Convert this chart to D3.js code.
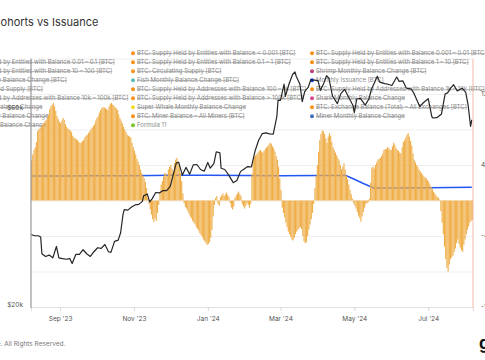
<!DOCTYPE html>
<html><head><meta charset="utf-8">
<script src="https://cdn.jsdelivr.net/npm/d3@7"></script>
<style>
html,body{margin:0;padding:0;background:#fff;overflow:hidden;}
svg{display:block;font-family:Inter,"Noto Sans",sans-serif;}
</style></head><body>
<svg id="c" width="485" height="360"></svg>
<script>
// ---------- DATA ----------
const startDate = "2023-08-08";
// Daily miner-cohort monthly balance change (thousand BTC), from 2023-08-08
const balanceChange = [
45,52,57,60,66,78,80,81,83,85,87,89,91,93,97,103,106,108,110,106,
101,95,92,89,87,90,93,91,86,83,81,80,79,77,73,71,70,69,68,66,
65,65,67,68,71,73,74,76,78,80,82,84,86,90,93,95,99,102,104,105,
105,104,103,102,106,109,110,108,107,105,104,102,97,93,90,87,83,80,77,74,
73,72,71,65,60,56,52,47,44,40,35,31,28,25,21,14,3,
-4,-10,-16,-21,-24,-20,-23,-14,-5,
10,18,22,27,31,30,28,35,38,40,36,33,42,46,48,44,39,31,22,8,
-3,-7,-9,-12,-15,-18,-20,-23,-25,-27,-30,-32,-34,-37,-39,-41,-44,-46,-48,-50,-49,-47,-42,-33,-18,-5,
3,5,-4,-6,4,6,8,5,7,9,6,4,-3,-8,-10,-7,3,6,8,10,7,5,-4,-7,-9,-6,-3,-5,-8,-4,
30,45,49,51,52,54,56,57,55,54,56,58,60,61,63,65,64,61,59,55,50,46,38,25,12,
-8,-14,-19,-25,-30,-35,-38,-41,-44,-45,-42,-38,-35,-33,-31,-30,-32,-40,-46,-48,-47,-40,-33,-27,-21,-14,-4,
14,28,40,55,68,75,79,78,75,70,65,72,76,73,66,60,57,54,51,48,45,40,35,38,42,35,28,24,18,12,7,2,
-3,-6,-9,-13,-17,-20,-24,-18,-13,-8,-4,-3,-2,2,
20,37,38,36,40,43,46,47,48,50,53,57,58,58,60,59,57,57,61,65,63,59,57,56,54,53,60,66,68,71,74,76,72,67,62,53,46,43,40,38,35,33,31,29,27,26,25,23,21,18,15,13,10,8,6,4,3,1,
-12,-25,-38,-52,-66,-76,-80,-72,-66,-64,-62,-58,-54,-48,-44,-49,-53,-56,-58,-50,-44,-38,-33,-29,-25,-23,-22
];
const priceDates = ["2023-08-08","2023-08-11","2023-08-14","2023-08-16","2023-08-17","2023-08-20","2023-08-23","2023-08-26","2023-08-29","2023-08-31",
"2023-09-03","2023-09-06","2023-09-09","2023-09-11","2023-09-14","2023-09-17","2023-09-20","2023-09-23","2023-09-26","2023-09-29",
"2023-10-02","2023-10-05","2023-10-08","2023-10-11","2023-10-13","2023-10-16","2023-10-19","2023-10-21","2023-10-23","2023-10-24","2023-10-27","2023-10-30",
"2023-11-02","2023-11-05","2023-11-08","2023-11-09","2023-11-12","2023-11-14","2023-11-16","2023-11-19","2023-11-22","2023-11-25","2023-11-28",
"2023-12-01","2023-12-04","2023-12-06","2023-12-08","2023-12-11","2023-12-14","2023-12-17","2023-12-20","2023-12-23","2023-12-26","2023-12-29",
"2024-01-01","2024-01-03","2024-01-06","2024-01-08","2024-01-11","2024-01-12","2024-01-15","2024-01-18","2024-01-22","2024-01-25","2024-01-28","2024-01-31",
"2024-02-03","2024-02-06","2024-02-09","2024-02-12","2024-02-15","2024-02-18","2024-02-21","2024-02-24","2024-02-27","2024-02-28",
"2024-03-01","2024-03-04","2024-03-05","2024-03-08","2024-03-11","2024-03-13","2024-03-14","2024-03-17","2024-03-19","2024-03-21","2024-03-24","2024-03-26","2024-03-29",
"2024-04-01","2024-04-03","2024-04-06","2024-04-08","2024-04-10","2024-04-13","2024-04-17","2024-04-20","2024-04-23","2024-04-26","2024-04-30",
"2024-05-01","2024-05-03","2024-05-06","2024-05-10","2024-05-13","2024-05-15","2024-05-20","2024-05-22","2024-05-26","2024-05-28",
"2024-06-01","2024-06-05","2024-06-07","2024-06-10","2024-06-13","2024-06-17","2024-06-19","2024-06-24","2024-06-27",
"2024-07-01","2024-07-04","2024-07-05","2024-07-08","2024-07-12","2024-07-15","2024-07-17","2024-07-20","2024-07-22","2024-07-25","2024-07-29",
"2024-08-01","2024-08-03","2024-08-05","2024-08-06"];
const priceValues = [29600,29400,29400,29200,26600,26200,26400,26000,27700,26000,
25900,25800,25900,25200,26500,26500,27200,26600,26200,26900,
27500,27400,28000,26900,26800,28500,28700,29900,33100,34000,33900,34500,
34900,35000,35600,36700,37100,35500,36100,37400,37300,37800,37800,
38700,41900,44100,44200,41200,43000,41400,43600,43700,42500,42100,
44200,42800,43900,46900,46600,42800,42500,41300,39500,40000,42000,42600,
43200,43100,47100,50000,51900,52100,51800,51700,57000,62500,
62400,68300,63800,68300,72100,73100,71400,68400,62000,65500,67200,70000,69900,
69700,66000,68900,71600,70600,63900,61300,64900,66400,63800,60600,
58300,62900,63100,60800,62900,66200,71400,69100,68500,68400,
67800,71100,69400,69600,66800,66500,65100,60300,61600,
63000,57000,56600,56700,57900,64700,65100,67100,68100,65800,66800,
65300,60700,54000,56000];
const issuanceDates = ["2023-08-08","2023-09-01","2023-10-01","2023-11-01","2023-12-01","2024-01-01","2024-02-01","2024-03-01","2024-04-01","2024-04-24","2024-05-01","2024-05-08","2024-05-17","2024-06-01","2024-07-01","2024-08-06"];
const issuanceValues = [27.6,27.5,27.8,28.0,28.4,28.5,28.2,28.0,28.3,28.1,24.0,19.5,14.2,14.1,14.3,15.0];
const xTickDates = ["2023-09-01","2023-11-01","2024-01-01","2024-03-01","2024-05-01","2024-07-01"];
const xTickLabels = ["Sep '23","Nov '23","Jan '24","Mar '24","May '24","Jul '24"];
const priceTicks = [20000, 60000];
const priceTickLabels = ["$20k", "$60k"];
const gridTicks = [-120,-80,-40,0,40,80,120,160];
const rightTicks = [120, 40, -40, -120];
const rightTickLabels = ["120K", "40K", "-40K", "-120K"];
const legendLeftNames = ["BTC: Supply Held by Entities with Balance 0.01 – 0.1 [BTC]","BTC: Supply Held by Entities with Balance 10 – 100 [BTC]","Plankton Monthly Balance Change [BTC]","BTC: Highly Liquid Supply [BTC]","BTC: Supply Held by Addresses with Balance 10k – 100k [BTC]","Whale Monthly Balance Change","Octopus Monthly Balance Change","Dolphin Monthly Balance Change"];
const legendANames = ["BTC: Supply Held by Entities with Balance < 0.001 [BTC]","BTC: Supply Held by Entities with Balance 0.1 – 1 [BTC]","BTC: Circulating Supply [BTC]","Fish Monthly Balance Change [BTC]","BTC: Supply Held by Addresses with Balance 100 – 1k [BTC]","BTC: Supply Held by Addresses with Balance > 100k [BTC]","Super Whale Monthly Balance Change","BTC: Miner Balance – All Miners [BTC]","Formula 11"];
const legendAColors = ["#f7931a","#f7931a","#f7931a","#5bbfb5","#f7931a","#f7931a","#f2de2a","#f7931a","#7cc62d"];
const legendAActive = [false,false,false,false,false,false,false,false,true];
const legendBNames = ["BTC: Supply Held by Entities with Balance 0.001 – 0.01 [BTC]","BTC: Supply Held by Entities with Balance 1 – 10 [BTC]","Shrimp Monthly Balance Change [BTC]","Monthly Issuance [BTC]","BTC: Supply Held by Addresses with Balance 1k – 10k [BTC]","Shark Monthly Balance Change","BTC: Exchange Balance (Total) – All Exchanges [BTC]","Miner Monthly Balance Change"];
const legendBColors = ["#f7931a","#f7931a","#b8437a","#0a3cff","#f7931a","#e0468f","#f7931a","#3f6fc4"];
const legendBActive = [false,false,false,true,false,false,false,false];

// ---------- CHART ----------
const svg = d3.select("#c");
const P = {left:31, right:473, top:58.5, bottom:307};
const parse = d3.utcParse("%Y-%m-%d");
const t0 = parse(startDate);
const x = d3.scaleUtc().domain([t0, parse("2024-08-07")]).range([P.left, P.right]);
const yBar = d3.scaleLinear().domain([-120,160]).range([P.bottom, P.top]);
const yPrice = d3.scaleLog().domain([19780,78800]).range([P.bottom, P.top]);

// title
svg.append("text").attr("x",-7.5).attr("y",26).attr("font-size",11).attr("fill","#333")
  .text("Cohorts vs Issuance");

// gridlines
svg.append("g").selectAll("line").data(gridTicks).join("line")
  .attr("x1",P.left).attr("x2",P.right)
  .attr("y1",d=>yBar(d)+0.5).attr("y2",d=>yBar(d)+0.5)
  .attr("stroke","#efefef").attr("stroke-width",1);

// legend
function legendCol(names, colors, active, dotX, textX, y0){
  const g = svg.append("g").attr("font-size",6);
  names.forEach((n,i)=>{
    const y = y0 + i*9;
    g.append("circle").attr("cx",dotX).attr("cy",y).attr("r",2).attr("fill",colors ? colors[i] : "#f7931a");
    const t = g.append("text").attr("x",textX).attr("y",y+2).attr("fill", "#8a8a8a").text(n);
    if(!(active && active[i])){
      const w = t.node().getComputedTextLength();
      g.append("line").attr("x1",textX).attr("x2",textX+w).attr("y1",y+0.3).attr("y2",y+0.3)
        .attr("stroke","#8a8a8a").attr("stroke-width",0.6);
    }
  });
}
legendCol(legendLeftNames, null, null, -53, -48, 62.3);
legendCol(legendANames, legendAColors, legendAActive, 133, 137, 53.3);
legendCol(legendBNames, legendBColors, legendBActive, 312, 316, 53.3);

// issuance line (beneath bars)
const iss = issuanceDates.map((d,i)=>({d:parse(d), v:issuanceValues[i]}));
svg.append("path").datum(iss)
  .attr("d", d3.line().x(d=>x(d.d)).y(d=>yBar(d.v)))
  .attr("fill","none").attr("stroke","#2456f2").attr("stroke-width",1.5);

// bars
const bars = balanceChange.map((v,i)=>({d:d3.utcDay.offset(t0,i), v}));
svg.append("g").selectAll("rect").data(bars).join("rect")
  .attr("x", d=>x(d.d))
  .attr("width", 1.12)
  .attr("y", d=>Math.min(yBar(d.v), yBar(0)))
  .attr("height", d=>Math.abs(yBar(d.v)-yBar(0)))
  .attr("fill","#efae48");

// price line
const price = priceDates.map((d,i)=>({d:parse(d), v:priceValues[i]}));
svg.append("path").datum(price)
  .attr("d", d3.line().x(d=>x(d.d)).y(d=>yPrice(d.v)))
  .attr("fill","none").attr("stroke","#262626").attr("stroke-width",1.2).attr("stroke-linejoin","round");

// x axis
const xa = svg.append("g").attr("transform",`translate(0,${P.bottom})`)
  .call(d3.axisBottom(x).tickValues(xTickDates.map(parse)).tickFormat((d,i)=>xTickLabels[i]).tickSize(4).tickPadding(5));
xa.select(".domain").attr("stroke","#e2e2e2");
xa.selectAll(".tick line").attr("stroke","#d8d8d8");
xa.selectAll("text").attr("font-size",6.5).attr("fill","#555").attr("font-family","Inter,sans-serif");

// left axis line & labels
svg.append("line").attr("x1",P.left).attr("x2",P.left).attr("y1",P.top).attr("y2",P.bottom+1)
  .attr("stroke","#9a9a9a").attr("stroke-width",1.2);
svg.append("g").selectAll("text").data(priceTicks).join("text")
  .attr("x",23).attr("y",d=>yPrice(d)).attr("dy","0.35em").attr("text-anchor","end")
  .attr("font-size",6.5).attr("fill","#555").text((d,i)=>priceTickLabels[i]);

// right axis line & labels
svg.append("line").attr("x1",P.right).attr("x2",P.right).attr("y1",P.top).attr("y2",P.bottom+1)
  .attr("stroke","#f3b9a8").attr("stroke-width",1);
svg.append("g").selectAll("text").data(rightTicks).join("text")
  .attr("x",481).attr("y",d=>yBar(d)).attr("dy","0.35em")
  .attr("font-size",6.5).attr("fill","#555").text((d,i)=>rightTickLabels[i]);

// footer: place so that ". All Rights Reserved." starts at the left edge
const foot = svg.append("text").attr("y",346).attr("font-size",6.5).attr("fill","#777")
  .text("© 2024 Glassnode. All Rights Reserved.");
const fullW = foot.node().getComputedTextLength();
const tmp = svg.append("text").attr("font-size",6.5).text(". All Rights Reserved.");
const tailW = tmp.node().getComputedTextLength(); tmp.remove();
foot.attr("x", 0.5 - (fullW - tailW));
svg.append("text").attr("x",479).attr("y",349).attr("font-size",17).attr("font-weight",700).attr("fill","#111")
  .text("glassnode");
</script>
</body></html>
